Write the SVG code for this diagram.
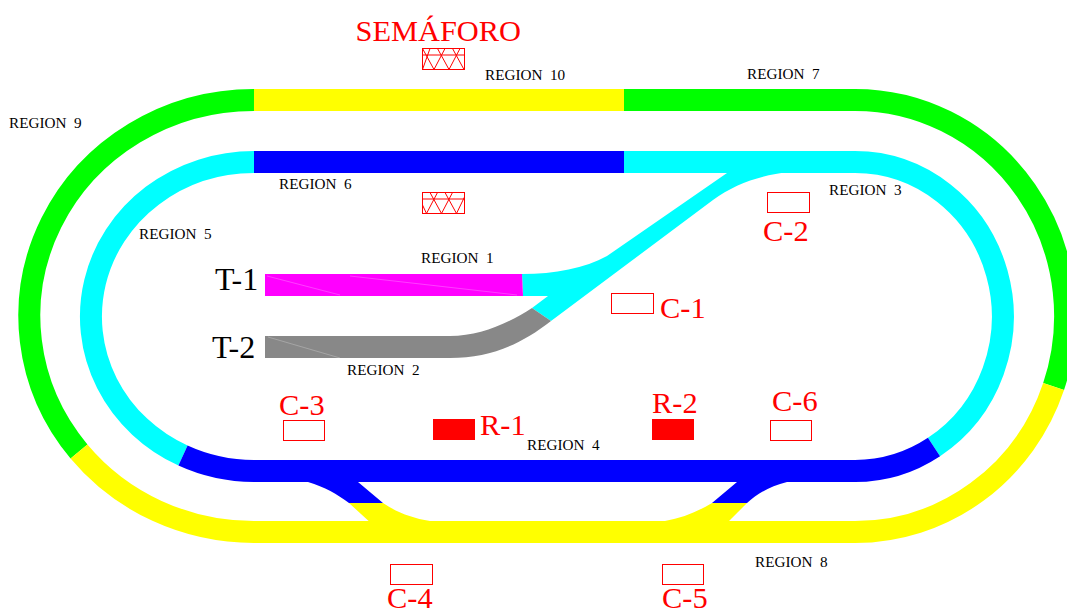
<svg xmlns="http://www.w3.org/2000/svg" width="1067" height="610" viewBox="0 0 1067 610">
<style>
.t{fill:none;stroke-width:22;stroke-linecap:butt}
.lbl{font-family:"Liberation Serif",serif;font-size:15.200px;fill:#000;word-spacing:3.800px}
.big{font-family:"Liberation Serif",serif;font-size:30.400px;fill:#f00}
.blk{font-family:"Liberation Serif",serif;font-size:32px;fill:#000}
.s{fill:#fff;stroke:#f00;stroke-width:1}
.r{fill:#f00}
.m{fill:none;stroke:#f00;stroke-width:1}
.f{stroke:#fff;stroke-opacity:.35;stroke-width:.7;fill:none}
</style>
<rect width="1067" height="610" fill="#fff"/>
<g id="connectors">
<path id="region10" class="t" d="M254 100H624" style="stroke:#ff0"/>
<path id="region7" class="t" style="stroke:#0f0" d="M624 100H855A210 216 0 0 1 1053.600 386.500"/>
<path id="region9" class="t" style="stroke:#0f0" d="M254 100A224.500 216 0 0 0 79 451.500"/>
<path id="region8" class="t" style="stroke:#ff0" d="M79 451.500A224.500 216 0 0 0 254 532H855A210 216 0 0 0 1053.600 386.500"/>
<path id="region6" class="t" style="stroke:#00f" d="M254 162H624"/>
<path id="region3" class="t" style="stroke:#0ff" d="M624 162H855A148 154.500 0 0 1 934 447"/>
<path id="region5" class="t" style="stroke:#0ff" d="M254 162A163 154.500 0 0 0 183 455.600"/>
<path id="region4" class="t" style="stroke:#00f" d="M183 455.600A163 154.500 0 0 0 254 471H855A148 154.500 0 0 0 934 447"/>
<path id="branch" fill="#0ff" d="M727 173L607 256C585 268 555 274 522 274L523 296H548L532 308L551 321L713 200C735 184 760 175 790 172L790 165H727Z"/>
<path id="region1" fill="#f0f" d="M265 274H522L523 296H265Z"/>
<path id="region2" fill="#888" d="M265 336H450C480 336 507 324 532 308L551 321C520 345 490 358 450 358H265Z"/>
<path class="f" d="M267 276L340 295M350 276L517 295"/>
<path class="f" d="M268 337L340 358"/>
<path id="cross-left-blue" fill="#00f" d="M308 482C325 487 337 494 349 503H383L358 482Z"/>
<path id="cross-left-yellow" fill="#ff0" d="M349 503H383C398 513 412 518 430 521V525H373Z"/>
<path id="cross-right-blue" fill="#00f" d="M737 482L712 503H747C757 494 770 486 787 482Z"/>
<path id="cross-right-yellow" fill="#ff0" d="M712 503H747L729 521V525H665V521C682 518 697 512 712 503Z"/>
</g>
<g id="semaforo1">
<rect class="s" x="422.500" y="48.500" width="42" height="21"/>
<path class="m" d="M422.500 55H464.500M422.500 69.500L430 48.500M422.500 48.500L434 69.500L445 48.500M437.500 48.500L449 69.500L460 48.500M452.500 48.500L464 69.500"/>
</g>
<g id="semaforo2">
<rect class="s" x="422.500" y="192.500" width="42" height="21"/>
<path class="m" d="M422.500 199H464.500M422.500 205L426.500 213.500L437.500 192.500M430 192.500L441.500 213.500L452.500 192.500M445 192.500L456.500 213.500L464.500 197"/>
</g>
<g id="c1"><rect class="s" x="611.500" y="293.500" width="42" height="20"/><text class="big" x="660" y="318">C-1</text></g>
<g id="c2"><rect class="s" x="767.500" y="192.500" width="42" height="20"/><text class="big" x="763" y="241">C-2</text></g>
<g id="c3"><rect class="s" x="283.500" y="420.500" width="41" height="20"/><text class="big" x="279" y="415">C-3</text></g>
<g id="c4"><rect class="s" x="390.500" y="564.500" width="42" height="20"/><text class="big" x="387" y="608">C-4</text></g>
<g id="c5"><rect class="s" x="662.500" y="564.500" width="41" height="20"/><text class="big" x="662" y="608">C-5</text></g>
<g id="c6"><rect class="s" x="770.500" y="420.500" width="41" height="20"/><text class="big" x="772" y="411">C-6</text></g>
<g id="r1"><rect class="r" x="433" y="419" width="42" height="21"/><text class="big" x="480" y="435">R-1</text></g>
<g id="r2"><rect class="r" x="652" y="419" width="42" height="21"/><text class="big" x="652" y="413">R-2</text></g>
<g id="labels">
<text class="big" x="355.500" y="41">SEMÁFORO</text>
<text class="blk" x="215" y="290">T-1</text>
<text class="blk" x="212" y="358">T-2</text>
<text class="lbl" x="485" y="80">REGION 10</text>
<text class="lbl" x="747" y="79">REGION 7</text>
<text class="lbl" x="9" y="128">REGION 9</text>
<text class="lbl" x="279" y="189">REGION 6</text>
<text class="lbl" x="829" y="195">REGION 3</text>
<text class="lbl" x="139" y="239">REGION 5</text>
<text class="lbl" x="421" y="263">REGION 1</text>
<text class="lbl" x="347" y="375">REGION 2</text>
<text class="lbl" x="527" y="450">REGION 4</text>
<text class="lbl" x="755" y="567">REGION 8</text>
</g>
</svg>
